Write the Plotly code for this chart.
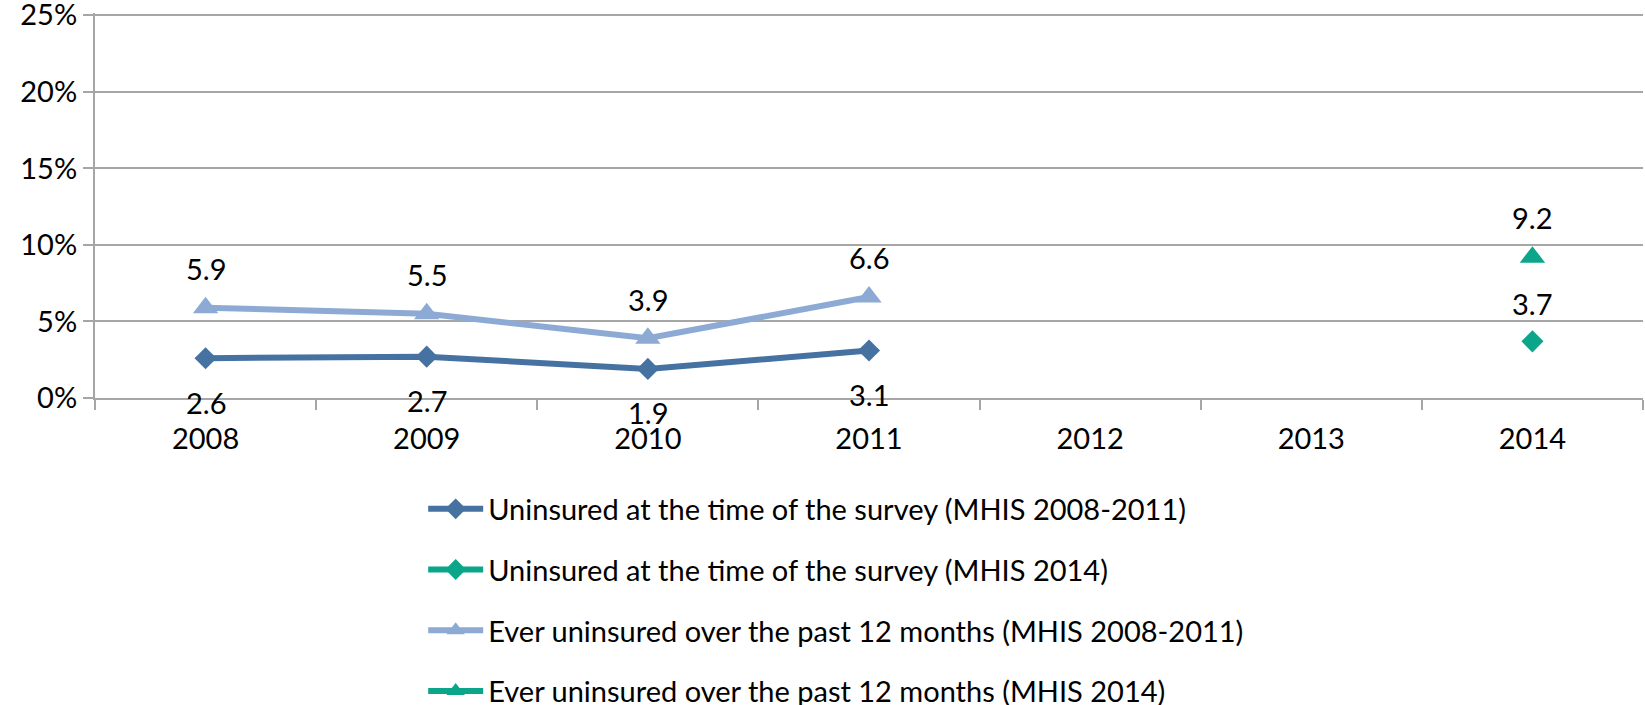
import plotly.graph_objects as go

years = ["2008", "2009", "2010", "2011", "2012", "2013", "2014"]
years_early = ["2008", "2009", "2010", "2011"]
years_late = ["2014"]
unins_early = [2.6, 2.7, 1.9, 3.1]
unins_late = [3.7]
ever_early = [5.9, 5.5, 3.9, 6.6]
ever_late = [9.2]
y_ticks = [0, 5, 10, 15, 20, 25]

names = [
    "Uninsured at the time of the survey (MHIS 2008-2011)",
    "Uninsured at the time of the survey (MHIS 2014)",
    "Ever uninsured over the past 12 months (MHIS 2008-2011)",
    "Ever uninsured over the past 12 months (MHIS 2014)",
]

DARK = "#4672A1"
LIGHT = "#8CAAD4"
TEAL = "#0BA68A"
FONT = "Lato"
FS = 29

fig = go.Figure()
series = [
    (years_early, unins_early, names[0], DARK, "diamond", 17, -44),
    (years_late, unins_late, names[1], TEAL, "diamond", 17, 38),
    (years_early, ever_early, names[2], LIGHT, "triangle-up", 22, 39),
    (years_late, ever_late, names[3], TEAL, "triangle-up", 22, 40),
]
for i, (xs, ys, nm, col, sym, sz, shift) in enumerate(series):
    fig.add_trace(go.Scatter(
        x=xs, y=ys, name=nm, mode="lines+markers",
        line=dict(color=col, width=6),
        marker=dict(symbol=sym, size=sz, color=col),
        legendgroup=f"g{i}",
    ))
    for xv, yv in zip(xs, ys):
        fig.add_annotation(x=years.index(xv), y=yv, text=f"{yv:.1f}", showarrow=False,
                           yshift=shift, font=dict(family=FONT, size=FS, color="#000"))

fig.update_layout(
    width=1645, height=705,
    margin=dict(l=95, r=2, t=13, b=307, autoexpand=False),
    paper_bgcolor="white", plot_bgcolor="white",
    font=dict(family=FONT, size=FS, color="#000"),
    showlegend=True,
    legend=dict(
        x=0.212, y=-0.222, xanchor="left", yanchor="top",
        font=dict(family=FONT, size=FS, color="#000"),
        tracegroupgap=20, itemwidth=55,
        bgcolor="rgba(0,0,0,0)",
    ),
    xaxis=dict(
        type="category", categoryorder="array", categoryarray=years,
        range=[-0.5, 6.5], tickangle=0,
        showgrid=False, showline=True, linecolor="#A6A6A6", linewidth=2,
        ticks="outside", tickson="boundaries", ticklen=10, tickwidth=2,
        tickcolor="#A6A6A6", ticklabelstandoff=14,
        tickfont=dict(family=FONT, size=FS, color="#000"),
        zeroline=False, fixedrange=True,
    ),
    yaxis=dict(
        range=[0, 25.15], tickmode="array", tickvals=y_ticks,
        ticktext=[f"{v}%" for v in y_ticks], ticklabeloverflow="allow",
        showgrid=True, gridcolor="#A6A6A6", gridwidth=2,
        showline=True, linecolor="#A6A6A6", linewidth=2,
        ticks="outside", ticklen=10, tickwidth=2, tickcolor="#A6A6A6",
        tickfont=dict(family=FONT, size=FS, color="#000"),
        zeroline=False, fixedrange=True,
    ),
)

fig.write_html("out.html", config={"displayModeBar": False},
               post_script="document.body.style.margin='0';")
